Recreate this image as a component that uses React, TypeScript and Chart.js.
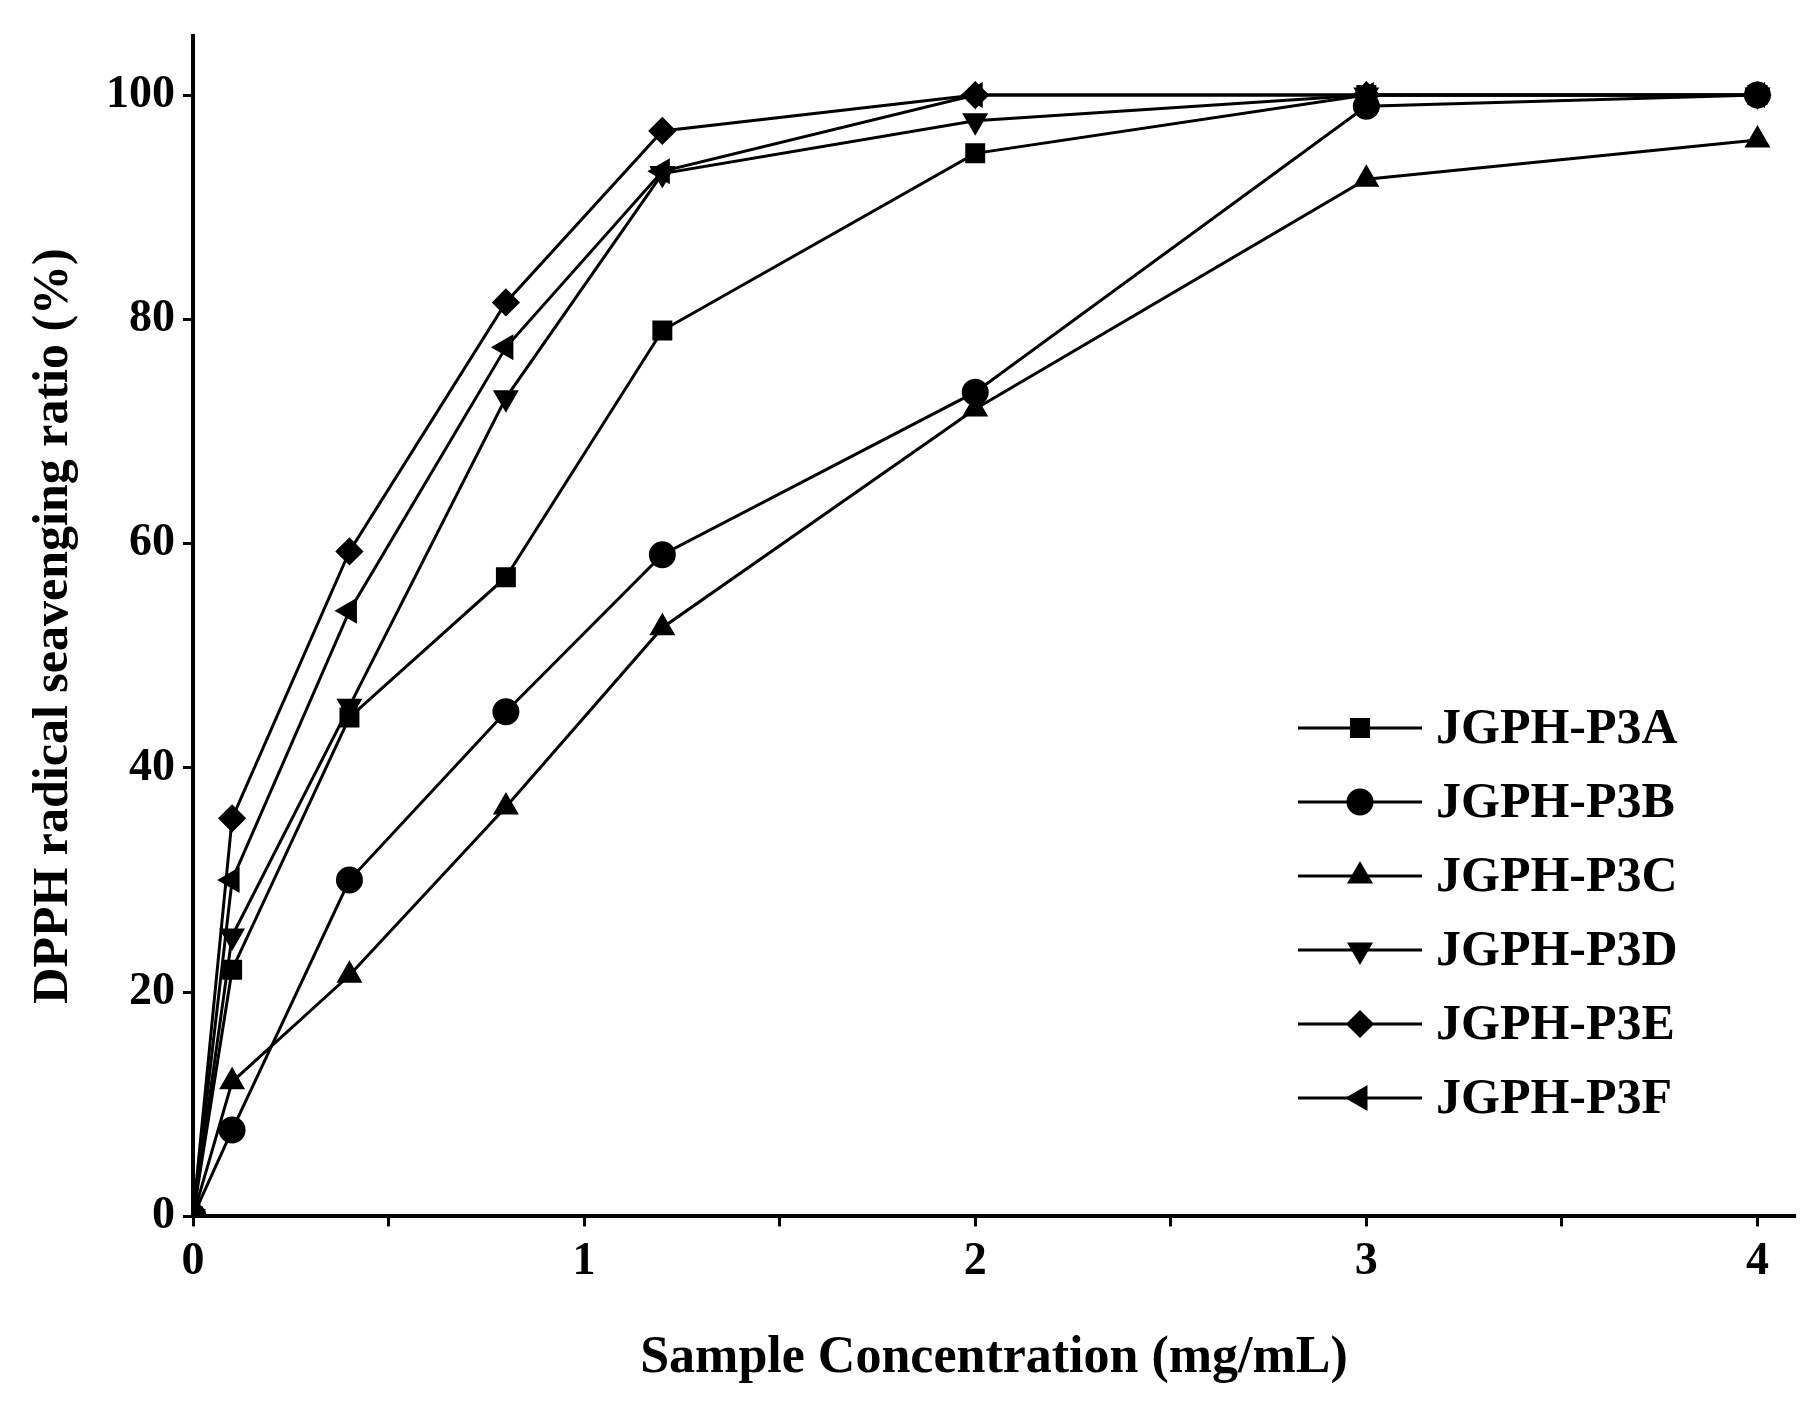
import React, { useEffect, useRef } from 'react';
import Chart from 'chart.js/auto';
import { drawPoint } from 'chart.js/helpers';

const concentrations = [0, 0.1, 0.4, 0.8, 1.2, 2, 3, 4];
const seriesNames = ['JGPH-P3A', 'JGPH-P3B', 'JGPH-P3C', 'JGPH-P3D', 'JGPH-P3E', 'JGPH-P3F'];
const p3a = [0, 22, 44.5, 57, 79, 94.8, 100, 100];
const p3b = [0, 7.7, 30, 45, 59, 73.5, 99, 100];
const p3c = [0, 12, 21.5, 36.5, 52.5, 72, 92.5, 96];
const p3d = [0, 25, 45.5, 73, 93, 97.7, 100, 100];
const p3e = [0, 35.5, 59.3, 81.5, 96.8, 100, 100, 100];
const p3f = [0, 30, 54, 77.5, 93.2, 100, 100, 100];
const xTicks = [0, 0.5, 1, 1.5, 2, 2.5, 3, 3.5, 4];
const yTicks = [0, 20, 40, 60, 80, 100];

const markers: [string, number][] = [
  ['rect', 0], ['circle', 0], ['triangle', 0], ['triangle', 180], ['rectRot', 0], ['triangle', 270],
];

const legendPlugin = {
  id: 'insideLegend',
  afterDraw(chart: any) {
    const ctx = chart.ctx;
    ctx.save();
    ctx.font = 'bold 50px "Liberation Serif"';
    ctx.textBaseline = 'middle';
    chart.data.datasets.forEach((ds: any, i: number) => {
      const y = 728 + i * 74;
      ctx.strokeStyle = '#000';
      ctx.lineWidth = 3;
      ctx.beginPath();
      ctx.moveTo(1298, y);
      ctx.lineTo(1422, y);
      ctx.stroke();
      ctx.fillStyle = '#000';
      drawPoint(ctx, { pointStyle: ds.pointStyle, rotation: ds.pointRotation, radius: 12, borderWidth: 1 } as any, 1360, y);
      ctx.fillStyle = '#000';
      ctx.fillText(ds.label, 1436, y + 2);
    });
    ctx.restore();
  },
};

const App: React.FC = () => {
  const ref = useRef<HTMLCanvasElement | null>(null);

  useEffect(() => {
    document.body.style.margin = '0';
    if (!ref.current) return;
    const all = [p3a, p3b, p3c, p3d, p3e, p3f];
    const chart = new Chart(ref.current, {
      type: 'line',
      data: {
        datasets: all.map((vals, i) => ({
          label: seriesNames[i],
          data: vals.map((v, j) => ({ x: concentrations[j], y: v })),
          borderColor: '#000',
          backgroundColor: '#000',
          borderWidth: 3,
          pointStyle: markers[i][0] as any,
          pointRotation: markers[i][1],
          pointRadius: 12,
          tension: 0,
        })),
      },
      options: {
        animation: false,
        responsive: false,
        layout: { padding: { top: 23, right: 12, left: 20, bottom: 20 } },
        plugins: { legend: { display: false }, tooltip: { enabled: false } },
        scales: {
          x: {
            type: 'linear',
            min: 0,
            max: 4.096,
            afterBuildTicks: (s: any) => { s.ticks = xTicks.map((v) => ({ value: v })); },
            grid: { drawOnChartArea: false, drawTicks: true, tickLength: 10, color: '#000', tickWidth: 3 },
            border: { color: '#000', width: 4 },
            ticks: {
              color: '#000',
              font: { family: 'Liberation Serif', weight: 'bold', size: 46 },
              padding: 8,
              maxRotation: 0,
              callback: (v: any) => (Number.isInteger(v) ? String(v) : ''),
            },
            title: {
              display: true,
              text: 'Sample Concentration (mg/mL)',
              color: '#000',
              font: { family: 'Liberation Serif', weight: 'bold', size: 52 },
              padding: { top: 30 },
            },
          },
          y: {
            min: 0,
            max: 105.3,
            afterBuildTicks: (s: any) => { s.ticks = yTicks.map((v) => ({ value: v })); },
            grid: { drawOnChartArea: false, drawTicks: true, tickLength: 10, color: '#000', tickWidth: 3 },
            border: { color: '#000', width: 4 },
            ticks: {
              color: '#000',
              font: { family: 'Liberation Serif', weight: 'bold', size: 46 },
              padding: 8,
            },
            title: {
              display: true,
              text: 'DPPH radical seavenging ratio (%)',
              color: '#000',
              font: { family: 'Liberation Serif', weight: 'bold', size: 50 },
              padding: { bottom: 14 },
            },
          },
        },
      },
      plugins: [legendPlugin],
    });
    return () => chart.destroy();
  }, []);

  return <canvas ref={ref} width={1810} height={1414} style={{ display: 'block', background: '#fff' }} />;
};

export default App;
